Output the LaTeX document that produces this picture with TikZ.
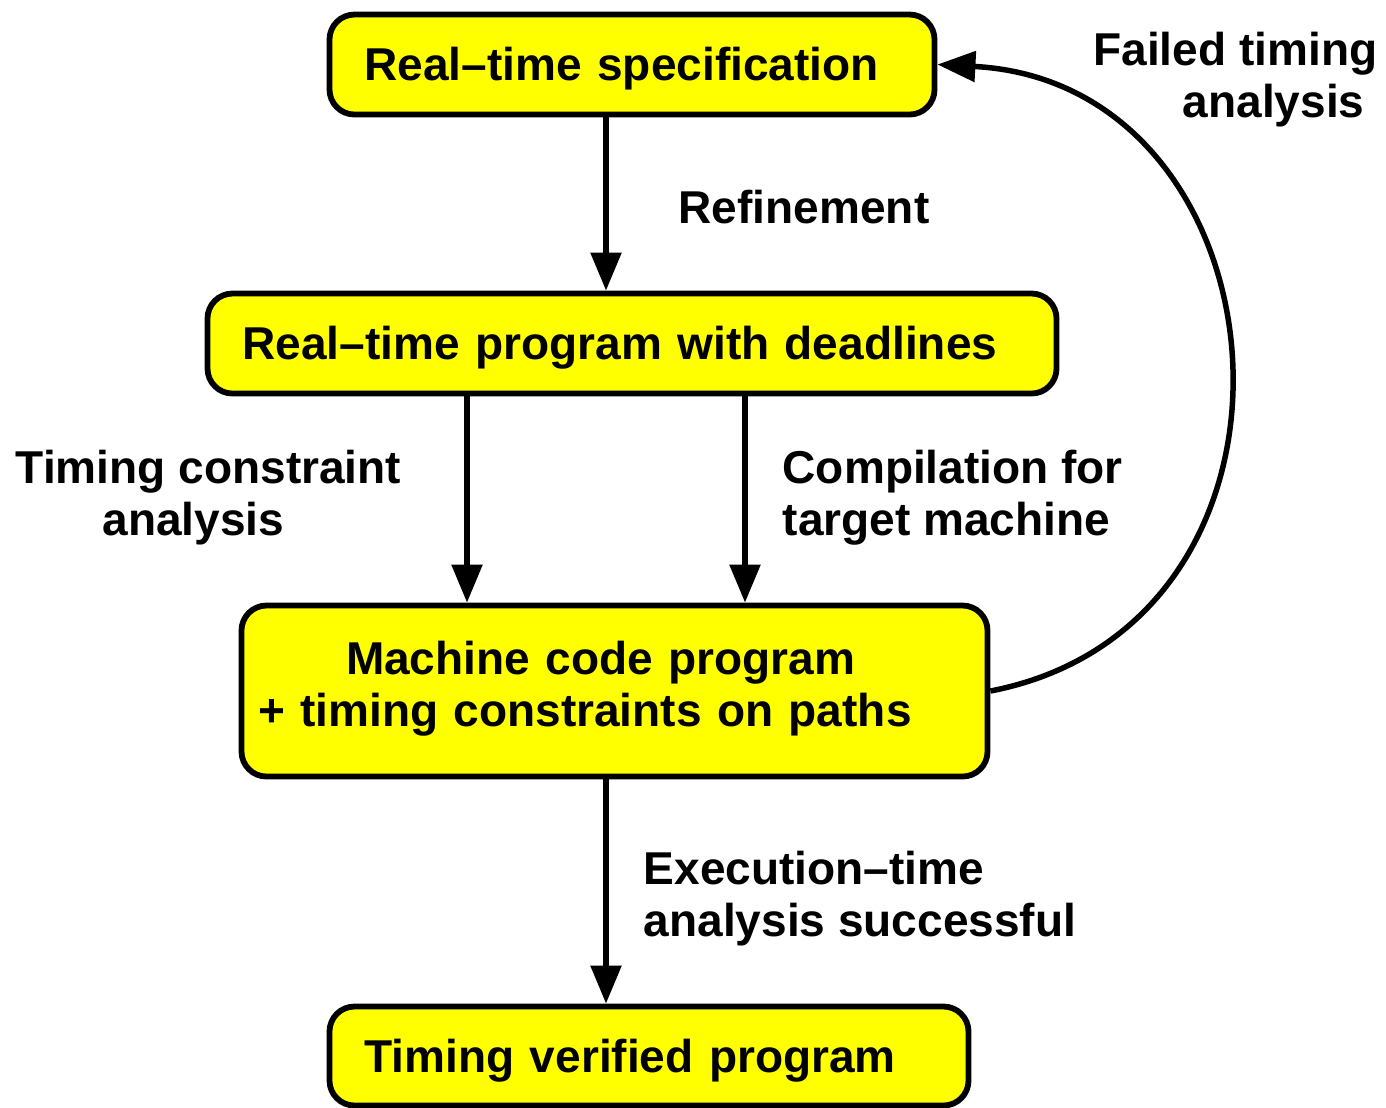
\documentclass[tikz,border=0pt]{standalone}
\usepackage{fontspec}
\setmainfont{Liberation Sans}
\usepackage{xcolor}
\usepackage{tikz}
\usetikzlibrary{arrows.meta,positioning,calc}

\definecolor{boxyellow}{RGB}{255,255,0}

\begin{document}
\begin{tikzpicture}[
    font=\fontsize{13.1}{14.8}\selectfont\bfseries,
    box/.style={rectangle, draw, line width=0.058cm, fill=boxyellow, rounded corners=0.25cm, align=left, inner xsep=0.35cm, inner ysep=0pt, text height=0.92em, text depth=0pt},
    arrow/.style={-{Triangle[length=0.38cm, width=0.30cm]}, line width=0.055cm},
    lbl/.style={inner sep=0pt}
]
\useasboundingbox (0,0) rectangle (13.86,-11.07);

% Boxes
\node[box, text width=5.35cm, minimum height=1.0cm] (spec) at (6.32,-0.645) {Real–time specification};
\node[box, text width=7.79cm, minimum height=1.0cm] (rtprog) at (6.32,-3.435) {Real–time program with deadlines};
\node[box, text width=7.13cm, minimum height=1.71cm, inner xsep=0.165cm, text depth=0.66cm] (mcode) at (6.145,-6.91) {\hspace*{0.88cm}Machine code program\\+ timing constraints on paths};
\node[box, text width=5.69cm, minimum height=0.99cm] (verified) at (6.49,-10.56) {Timing verified program};

% Arrows
\draw[arrow] ([xshift=-0.26cm]spec.south) -- ([xshift=-0.26cm]rtprog.north);
\draw[arrow] ([xshift=-1.65cm]rtprog.south) -- ([xshift=-1.65cm]rtprog.south |- mcode.north);
\draw[arrow] ([xshift=1.13cm]rtprog.south) -- ([xshift=1.13cm]rtprog.south |- mcode.north);
\draw[arrow] ([xshift=-0.085cm]mcode.south) -- ([xshift=-0.085cm]mcode.south |- verified.north);
\draw[arrow] (mcode.east) to[out=11, in=-3, looseness=1.45] (spec.east);

% Labels
\node[lbl, anchor=base west] (refine) at (6.78,-2.23) {Refinement};
\node[lbl, anchor=base, align=center] (tcana) at (2.085,-5.35) {Timing constraint\\analysis\hspace*{0.3cm}};
\node[lbl, anchor=base west, align=left] (compile) at (7.82,-5.35) {Compilation for\\target machine};
\node[lbl, anchor=base west, align=left] (exec) at (6.43,-9.36) {Execution–time\\analysis successful};
\node[lbl, anchor=base east, align=right] (failed) at (13.78,-1.17) {Failed timing\\analysis\hspace*{0.28em}};

\end{tikzpicture}
\end{document}
